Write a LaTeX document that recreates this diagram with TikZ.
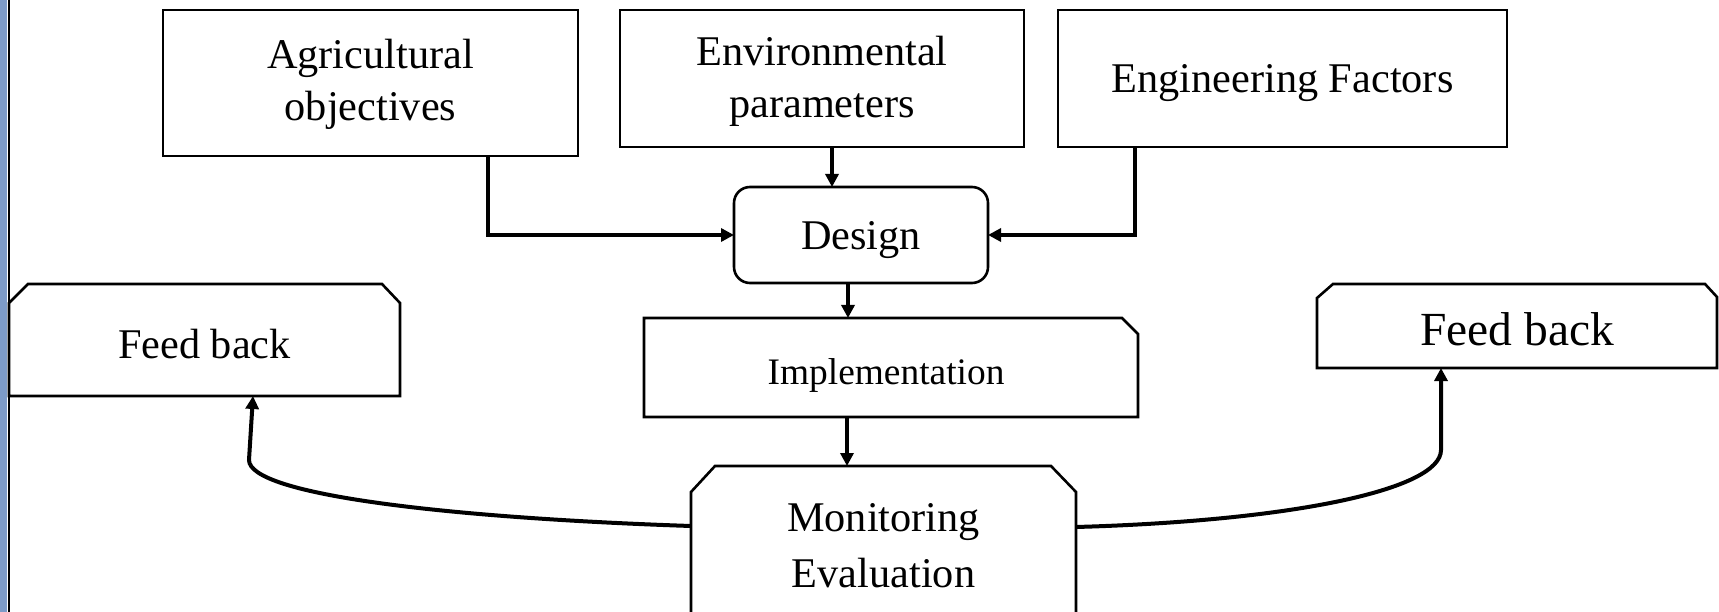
\documentclass[tikz,border=0pt]{standalone}
\usepackage{fontspec}
\setmainfont{Liberation Serif}
\usetikzlibrary{arrows.meta,calc}
\definecolor{stripblue}{RGB}{125,155,200}
\begin{document}
\begin{tikzpicture}[x=1pt,y=-1pt,
  box/.style={draw=black, line width=2.6pt, rectangle, inner sep=0pt, outer sep=0pt, font=\fontsize{42.3}{52.4}\selectfont},
  ghost/.style={rectangle, inner sep=0pt, outer sep=0pt, font=\fontsize{42.3}{52.4}\selectfont},
  outline/.style={draw=black, line width=2.6pt},
  conn/.style={draw=black, line width=4pt, -{Triangle[length=13pt,width=13pt]}},
]
\useasboundingbox (0,0) rectangle (1719,612);
\clip (0,0) rectangle (1719,612);
\fill[white] (0,0) rectangle (1719,612);
\fill[stripblue] (0,0) rectangle (7,612);
\draw[line width=2.6pt] (9,0) -- (9,612);

% boxes
\node[box, align=center, minimum width=415pt, minimum height=146pt] (agri) at (370.5,83) {\rule{0pt}{32.2pt}Agricultural\\objectives};
\node[box, align=center, minimum width=404pt, minimum height=137pt] (env) at (822,78.5) {\rule{0pt}{34.6pt}Environmental\\parameters};
\node[box, minimum width=449pt, minimum height=137pt, text depth=0pt] (eng) at (1282.5,78.5) {Engineering Factors};
\node[box, rounded corners=16pt, minimum width=254pt, minimum height=96pt, text depth=0pt] (design) at (861,235) {Design};
\node[ghost, font=\fontsize{37.4}{42}\selectfont, minimum width=494pt, minimum height=99pt, text height=34.3pt, text depth=0pt] (impl) at (891,367.5) {\kern-10pt Implementation};
\node[ghost, align=center, font=\fontsize{42.3}{56.5}\selectfont, minimum width=385pt, minimum height=159pt] (mon) at (883.5,545.5) {Monitoring\\Evaluation};
\node[ghost, minimum width=391pt, minimum height=112pt, text height=38pt, text depth=0pt] (fbl) at (204.5,340) {Feed back};
\node[ghost, font=\fontsize{47.5}{52}\selectfont, minimum width=400pt, minimum height=84pt, text height=38pt, text depth=0pt] (fbr) at (1517,326) {Feed back};

% chamfered outlines
\draw[outline] (impl.south west) -- (impl.north west) -- ($(impl.north east)+(-16,0)$) -- ($(impl.north east)+(0,16)$) -- (impl.south east) -- cycle;
\draw[outline] (mon.south west) -- ($(mon.north west)+(0,26)$) -- ($(mon.north west)+(24,0)$) -- ($(mon.north east)+(-25,0)$) -- ($(mon.north east)+(0,26)$) -- (mon.south east);
\draw[outline] (fbl.south west) -- ($(fbl.north west)+(0,19)$) -- ($(fbl.north west)+(19,0)$) -- ($(fbl.north east)+(-18,0)$) -- ($(fbl.north east)+(0,19)$) -- (fbl.south east) -- cycle;
\draw[outline] (fbr.south west) -- ($(fbr.north west)+(0,14)$) -- ($(fbr.north west)+(16,0)$) -- ($(fbr.north east)+(-12,0)$) -- ($(fbr.north east)+(0,13)$) -- (fbr.south east) -- cycle;

% connectors
\draw[conn] ($(agri.south)+(117.5,0)$) |- (design.west);
\draw[conn] ($(env.south)+(10,0)$) -- ($(design.north)+(-29,0)$);
\draw[conn] ($(eng.south)+(-147.5,0)$) |- (design.east);
\draw[conn] ($(design.south)+(-13,0)$) -- ($(impl.north)+(-43,0)$);
\draw[conn] ($(impl.south)+(-44,0)$) -- ($(mon.north)+(-36.5,0)$);
\draw[conn] ($(mon.north west)+(0,60)$) .. controls (450,518) and (249,495) .. (249,460) -- ($(fbl.south)+(48.5,0)$);
\draw[conn] ($(mon.north east)+(0,61)$) .. controls (1290,521) and (1441,490) .. (1441,450) -- ($(fbr.south)+(-76,0)$);
\end{tikzpicture}
\end{document}
